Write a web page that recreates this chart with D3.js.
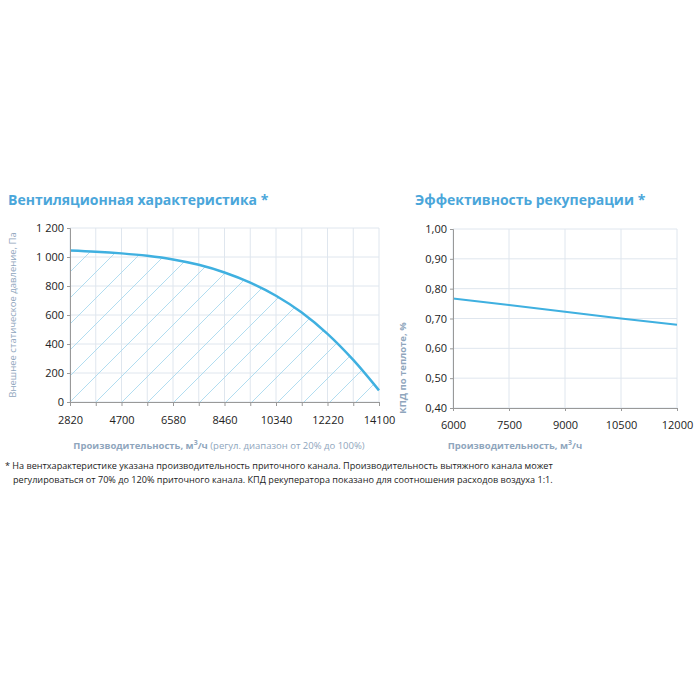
<!DOCTYPE html><html><head><meta charset="utf-8"><script src="https://cdn.jsdelivr.net/npm/d3@7"></script>
<style>body{margin:0;background:#fff}text{font-family:"Open Sans",sans-serif}</style></head><body>
<script>
const fanFlow=[2820,3760,4700,5640,6580,7520,8460,9400,10340,11280,12220,13160,14100];
const fanPressure=[1045,1037,1025,1008,983,946,893,823,733,617,470,290,80];
const fanXTicks=[2820,4700,6580,8460,10340,12220,14100];
const fanYTicks=[0,200,400,600,800,1000,1200];
const effFlow=[6000,7500,9000,10500,12000];
const effValue=[0.767,0.745,0.723,0.700,0.679];
const effYTicks=[0.4,0.5,0.6,0.7,0.8,0.9,1.0];

const blue="#3fb0e0", titleC="#4aa6da", axC="#8fa6bd", grid="#dfe6ee";
const svg=d3.select("body").append("svg").attr("width",700).attr("height",700);
svg.append("defs").append("pattern").attr("id","hatch").attr("patternUnits","userSpaceOnUse")
 .attr("width",26).attr("height",26).attr("x",70).attr("y",402)
 .append("path").attr("d","M0,26L26,0M-6.5,6.5L6.5,-6.5M19.5,32.5L32.5,19.5").attr("stroke","#a9d9ee").attr("stroke-width",0.9);

const curve=d3.curveCatmullRom;
const x1=d3.scaleLinear().domain([2820,14100]).range([70,379]);
const y1=d3.scaleLinear().domain([0,1200]).range([402,228]);
const g1=svg.append("g");
g1.selectAll(".hg").data(fanYTicks).join("line").attr("x1",70).attr("x2",379).attr("y1",d=>y1(d)).attr("y2",d=>y1(d)).attr("stroke",grid);
const vt=d3.range(2820,14101,940);
g1.selectAll(".vg").data(vt).join("line").attr("x1",d=>x1(d)).attr("x2",d=>x1(d)).attr("y1",228).attr("y2",402).attr("stroke",grid);
const pts=fanFlow.map((f,i)=>[f,fanPressure[i]]);
g1.append("path").datum(pts).attr("d",d3.area().x(d=>x1(d[0])).y0(402).y1(d=>y1(d[1])).curve(curve)).attr("fill","url(#hatch)");
g1.append("path").datum(pts).attr("d",d3.line().x(d=>x1(d[0])).y(d=>y1(d[1])).curve(curve)).attr("fill","none").attr("stroke",blue).attr("stroke-width",2.5);
const ax1=g1.append("g").attr("transform","translate(0,402)").call(d3.axisBottom(x1).tickValues(vt).tickSize(4).tickFormat(d=>fanXTicks.includes(d)?d:""));
ax1.selectAll("text").attr("font-size",11).attr("fill","#222").attr("dy","1.4em");
const ay1=g1.append("g").attr("transform","translate(70,0)").call(d3.axisLeft(y1).tickValues(fanYTicks).tickSize(3).tickFormat(d=>d>=1000?d3.format(",")(d).replace(","," "):d));
ay1.selectAll("text").attr("font-size",11).attr("fill","#222");
[ax1,ay1].forEach(a=>{a.select(".domain").attr("stroke","#999");a.selectAll("line").attr("stroke","#999");});
svg.append("text").attr("x",8).attr("y",205).attr("fill",titleC).attr("font-size",14).attr("font-weight","bold").text("Вентиляционная характеристика *");
svg.append("text").attr("transform","translate(16,315) rotate(-90)").attr("text-anchor","middle").attr("fill",axC).attr("font-size",9.5).text("Внешнее статическое давление, Па");
const t1=svg.append("text").attr("x",219).attr("y",449).attr("text-anchor","middle").attr("fill",axC).attr("font-size",9.5);
t1.append("tspan").attr("font-weight","bold").text("Производительность, м");
t1.append("tspan").attr("font-weight","bold").attr("dy",-4).attr("font-size",7).text("3");
t1.append("tspan").attr("font-weight","bold").attr("dy",4).text("/ч");
t1.append("tspan").text(" (регул. диапазон от 20% до 100%)");

const x2=d3.scaleLinear().domain([6000,12000]).range([453,677]);
const y2=d3.scaleLinear().domain([0.4,1.0]).range([408,229]);
const g2=svg.append("g");
g2.selectAll(".hg").data(effYTicks).join("line").attr("x1",453).attr("x2",677).attr("y1",d=>y2(d)).attr("y2",d=>y2(d)).attr("stroke",grid);
g2.selectAll(".vg").data(effFlow).join("line").attr("x1",d=>x2(d)).attr("x2",d=>x2(d)).attr("y1",229).attr("y2",408).attr("stroke",grid);
g2.append("path").datum(effFlow.map((f,i)=>[f,effValue[i]])).attr("d",d3.line().x(d=>x2(d[0])).y(d=>y2(d[1]))).attr("fill","none").attr("stroke",blue).attr("stroke-width",2);
const ax2=g2.append("g").attr("transform","translate(0,408)").call(d3.axisBottom(x2).tickValues(effFlow).tickSize(3).tickFormat(d=>String(d)));
ax2.selectAll("text").attr("font-size",11).attr("fill","#222").attr("dy","1.4em");
const ay2=g2.append("g").attr("transform","translate(453,0)").call(d3.axisLeft(y2).tickValues(effYTicks).tickSize(3).tickFormat(d=>d3.format(".2f")(d).replace(".",",")));
ay2.selectAll("text").attr("font-size",11).attr("fill","#222");
[ax2,ay2].forEach(a=>{a.select(".domain").attr("stroke","#999");a.selectAll("line").attr("stroke","#999");});
svg.append("text").attr("x",415).attr("y",205).attr("fill",titleC).attr("font-size",14).attr("font-weight","bold").text("Эффективность рекуперации *");
svg.append("text").attr("transform","translate(406,368) rotate(-90)").attr("text-anchor","middle").attr("fill",axC).attr("font-size",9.5).attr("font-weight","bold").text("КПД по теплоте, %");
const t2=svg.append("text").attr("x",515).attr("y",449).attr("text-anchor","middle").attr("fill",axC).attr("font-size",9.5).attr("font-weight","bold");
t2.append("tspan").text("Производительность, м");
t2.append("tspan").attr("dy",-4).attr("font-size",7).text("3");
t2.append("tspan").attr("dy",4).text("/ч");

svg.append("text").attr("x",5).attr("y",469).attr("font-size",9.1).attr("fill","#222").text("* На вентхарактеристике указана производительность приточного канала. Производительность вытяжного канала может");
svg.append("text").attr("x",13).attr("y",483).attr("font-size",9.1).attr("fill","#222").text("регулироваться от 70% до 120% приточного канала. КПД рекуператора показано для соотношения расходов воздуха 1:1.");
</script></body></html>
